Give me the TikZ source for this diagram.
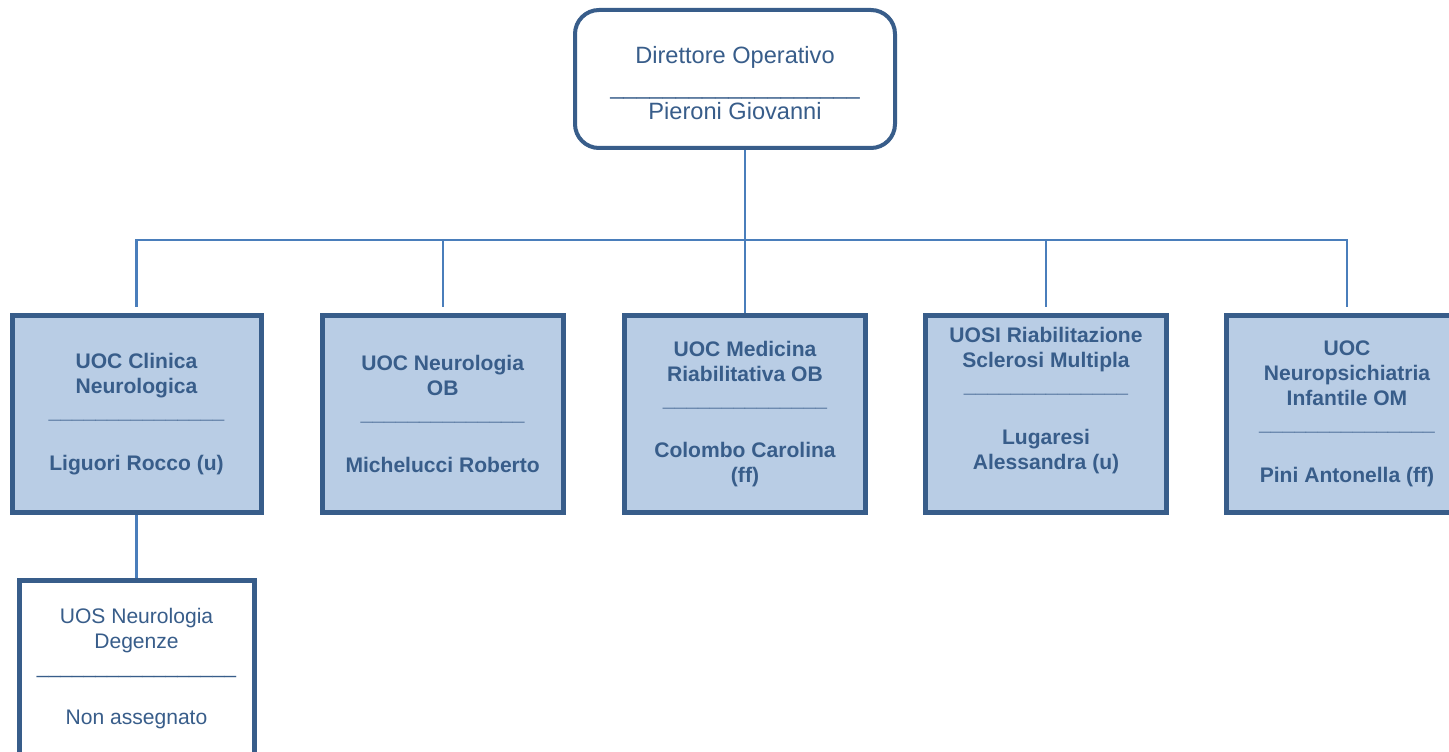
\documentclass[tikz,border=0pt]{standalone}
\usepackage{fontspec}
\setmainfont{Liberation Sans}
\usetikzlibrary{positioning}

\definecolor{bordo}{HTML}{385D8A}
\definecolor{riempi}{HTML}{B9CDE5}
\definecolor{linea}{HTML}{4A7EBB}
\newcommand{\riga}[1]{\foreach \k in {1,...,#1}{\_}}

\begin{document}
\begin{tikzpicture}[x=0.75pt,y=-0.75pt,node distance=42pt,
  dir/.style={draw=bordo,line width=3pt,rounded corners=18pt,fill=white,text=bordo,align=center,
    minimum width=240pt,minimum height=103.5pt,inner sep=0pt,font=\fontsize{17.7}{20.5}\selectfont},
  uoc/.style={draw=bordo,line width=3.75pt,fill=riempi,text=bordo,align=center,
    minimum width=181pt,minimum height=147.75pt,inner sep=0pt,font=\fontsize{15.8}{18.75}\selectfont\bfseries},
  uos/.style={draw=bordo,line width=3.75pt,fill=white,text=bordo,align=center,
    minimum width=176.25pt,minimum height=132pt,inner sep=0pt,font=\fontsize{15.8}{18.75}\selectfont},
  conn/.style={draw=linea,line width=1.6pt}]

\useasboundingbox (0,0) rectangle (1449,752);
\clip (0,0) rectangle (1449,752);

\node[uoc] (3) at (745,414) {UOC Medicina\\Riabilitativa OB\\\riga{14}\\[20pt]Colombo Carolina\\(ff)};
\node[uoc] (2) [left=of 3] {UOC Neurologia\\OB\\\riga{14}\\[20pt]Michelucci Roberto};
\node[uoc,minimum width=186.75pt] (1) [left=of 2] {UOC Clinica\\Neurologica\\\riga{15}\\[20pt]Liguori Rocco (u)};
\node[uoc] (4) [right=41pt of 3] {UOSI Riabilitazione\\Sclerosi Multipla\\\riga{14}\\[20pt]Lugaresi\\Alessandra (u)\\[4.5pt]\mbox{}};
\node[uoc] (5) [right=41pt of 4] {UOC\\Neuropsichiatria\\Infantile OM\\\riga{15}\\[20pt]Pini Antonella (ff)};
\node[dir] (0) at (735,79) {\mbox{}\\[-1.8pt]Direttore Operativo\\[2.5pt]\riga{19}\\[-1.5pt]Pieroni Giovanni};
\node[uos] (6) [below=47.25pt of 1] {UOS Neurologia\\Degenze\\\riga{17}\\[20pt]Non assegnato};

\coordinate (b) at (745,240);
\draw[conn] (0.south -| 3) -- (3);
\draw[conn] ([yshift=4.5pt]1.north) |- (b) -| ([yshift=4.5pt]5.north);
\draw[conn] ([yshift=4.5pt]2.north) -- (2.north |- b);
\draw[conn] ([yshift=4.5pt]4.north) -- (4.north |- b);
\draw[conn] (1) -- (6);
\end{tikzpicture}
\end{document}
